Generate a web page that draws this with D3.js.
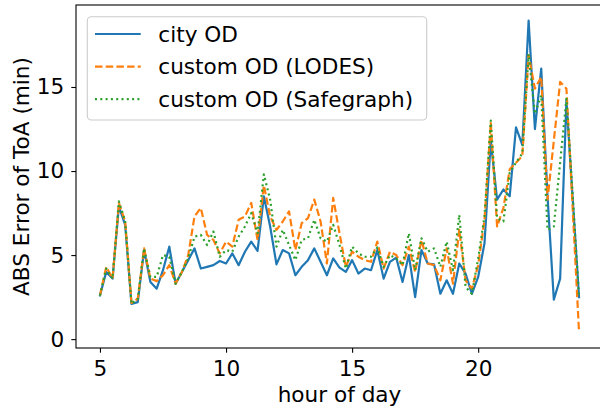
<!DOCTYPE html>
<html>
<head>
<meta charset="utf-8">
<script src="https://cdn.jsdelivr.net/npm/d3@7"></script>
<style>
  body { margin: 0; background: #fff; }
  svg { display: block; font-family: "DejaVu Sans", sans-serif; }
</style>
</head>
<body>
<svg id="chart" width="600" height="408"></svg>
<script>
// x grid: 15 minute steps from 5:00 to 24:00
const hours = d3.range(5, 24.001, 0.25);

const cityOD = [2.6, 4.0, 3.6, 7.9, 6.8, 2.1, 2.2, 5.3, 3.4, 3.0, 4.1, 5.5, 3.3, 4.0, 4.7, 5.4,
  4.2, 4.3, 4.4, 4.65, 4.5, 5.1, 4.4, 5.2, 5.8, 5.25, 8.5, 6.7, 4.45, 5.3, 5.1, 3.8,
  4.3, 4.7, 5.4, 4.6, 3.8, 4.8, 4.25, 4.0, 4.7, 3.9, 4.2, 4.1, 5.3, 3.6, 4.6, 4.85,
  3.4, 5.0, 2.5, 5.3, 4.5, 4.45, 2.7, 3.5, 2.7, 4.5, 3.9, 2.7, 3.7, 5.7, 11.8,
  8.3, 8.9, 8.5, 12.6, 11.55, 18.95, 12.5, 16.1, 8.5, 2.35, 3.6, 14.2, 8.3, 2.5];

const lodesOD = [2.6, 4.3, 3.6, 8.1, 7.0, 2.15, 2.4, 5.4, 3.6, 3.45, 3.8, 4.4, 3.3, 4.0, 5.0, 7.3,
  7.8, 6.2, 5.9, 5.1, 5.8, 5.5, 7.1, 7.3, 8.1, 5.9, 9.15, 7.3, 6.5, 7.0, 7.6, 5.3,
  6.9, 7.2, 8.3, 7.0, 4.5, 8.4, 6.3, 4.3, 5.2, 4.9, 4.7, 4.6, 5.8, 4.2, 5.2, 5.0,
  4.4, 5.5, 4.0, 5.9, 4.5, 4.4, 3.5, 5.4, 3.3, 6.5, 3.5, 3.0, 4.4, 7.1, 12.85,
  6.7, 7.8, 10.1, 10.5, 10.9, 16.9, 14.9, 15.6, 8.3, 11.8, 15.3, 14.9, 7.7, 0.4];

const safegraphOD = [2.6, 4.2, 3.6, 8.2, 7.0, 2.1, 2.4, 5.4, 3.7, 3.7, 5.0, 4.9, 3.3, 4.0, 4.8, 6.1,
  6.2, 5.6, 6.4, 4.9, 5.3, 5.2, 6.1, 6.7, 7.5, 6.3, 9.8, 8.3, 5.5, 6.5, 5.6, 4.7,
  5.9, 6.0, 7.1, 6.0, 5.8, 6.8, 5.6, 4.2, 5.5, 5.1, 4.9, 4.9, 5.45, 4.3, 5.0, 4.8,
  4.4, 6.3, 4.1, 6.0, 5.2, 5.4, 4.3, 5.8, 4.1, 7.4, 3.1, 2.7, 4.8, 7.3, 13.0,
  7.2, 7.0, 9.9, 10.5, 11.05, 16.95, 13.4, 14.5, 6.5, 6.7, 10.5, 14.3, 8.5, 2.5];

const seriesNames = ["city OD", "custom OD (LODES)", "custom OD (Safegraph)"];
const seriesValues = [cityOD, lodesOD, safegraphOD];
const colors = ["#1f77b4", "#ff7f0e", "#2ca02c"];
const dashes = [null, "7.5,3.2", "2,3.3"];
const xTicks = [5, 10, 15, 20];
const yTicks = [0, 5, 10, 15];

const svg = d3.select("#chart");
const plot = {left: 76, right: 603, top: 5, bottom: 348};
const fontSize = "21.6px";

// matplotlib-like 5% margins
function padded(lo, hi) {
  const m = (hi - lo) * 0.05;
  return [lo - m, hi + m];
}
const allVals = seriesValues.flat();
const x = d3.scaleLinear().domain(padded(d3.min(hours), d3.max(hours))).range([plot.left, plot.right]);
const y = d3.scaleLinear().domain(padded(d3.min(allVals), d3.max(allVals))).range([plot.bottom, plot.top]);

const line = d3.line().x((d, i) => x(hours[i])).y(d => y(d));

seriesValues.forEach((vals, k) => {
  svg.append("path")
    .datum(vals)
    .attr("d", line)
    .attr("fill", "none")
    .attr("stroke", colors[k])
    .attr("stroke-width", 2.2)
    .attr("stroke-linejoin", "round")
    .attr("stroke-linecap", k == 0 ? "square" : "butt")
    .attr("stroke-dasharray", dashes[k]);
});

// axes
const xAxis = svg.append("g")
  .attr("transform", `translate(0,${plot.bottom})`)
  .call(d3.axisBottom(x).tickValues(xTicks).tickSize(4.7).tickPadding(8).tickSizeOuter(0));
const yAxis = svg.append("g")
  .attr("transform", `translate(${plot.left},0)`)
  .call(d3.axisLeft(y).tickValues(yTicks).tickSize(4.7).tickPadding(7).tickSizeOuter(0));

[xAxis, yAxis].forEach(g => {
  g.select(".domain").remove();
  g.selectAll(".tick line").attr("stroke", "#000").attr("stroke-width", 1.1);
  g.selectAll("text").attr("font-size", fontSize).attr("font-family", "DejaVu Sans").attr("fill", "#000");
});

// frame
svg.append("rect")
  .attr("x", plot.left).attr("y", plot.top)
  .attr("width", plot.right - plot.left).attr("height", plot.bottom - plot.top)
  .attr("fill", "none").attr("stroke", "#000").attr("stroke-width", 1.1);

// axis labels
svg.append("text")
  .attr("x", (plot.left + plot.right) / 2).attr("y", 402)
  .attr("text-anchor", "middle")
  .attr("font-size", fontSize)
  .text("hour of day");

svg.append("text")
  .attr("transform", `translate(29,${(plot.top + plot.bottom) / 2}) rotate(-90)`)
  .attr("text-anchor", "middle")
  .attr("font-size", fontSize)
  .text("ABS Error of ToA (min)");

// legend
const legend = svg.append("g");
legend.append("rect")
  .attr("x", 87.3).attr("y", 16.7)
  .attr("width", 339.4).attr("height", 103.3)
  .attr("rx", 4)
  .attr("fill", "#fff").attr("fill-opacity", 0.8)
  .attr("stroke", "#cccccc").attr("stroke-width", 1.1);

seriesNames.forEach((name, k) => {
  const ly = 34 + k * 32.6;
  legend.append("line")
    .attr("x1", 95).attr("x2", 140.7)
    .attr("y1", ly).attr("y2", ly)
    .attr("stroke", colors[k])
    .attr("stroke-width", 2.2)
    .attr("stroke-dasharray", dashes[k]);
  legend.append("text")
    .attr("x", 158.3).attr("y", ly)
    .attr("dy", "0.35em")
    .attr("font-size", fontSize)
    .text(name);
});
</script>
</body>
</html>
